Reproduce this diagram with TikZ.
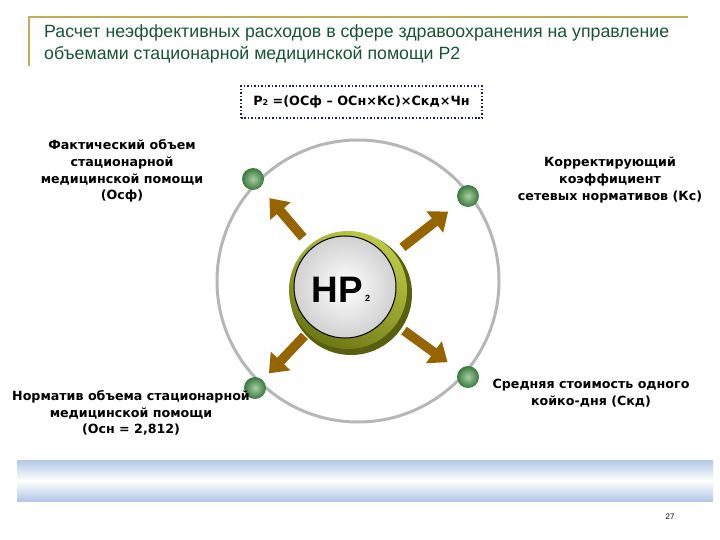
\documentclass[tikz,border=0pt]{standalone}
\usepackage{fontspec}
\setmainfont{Liberation Sans}
\newfontfamily\labfont{DejaVu Sans}
\usetikzlibrary{arrows.meta,shadings}
\definecolor{titlegreen}{RGB}{22,84,52}
\definecolor{goldline}{RGB}{196,172,84}
\definecolor{navy}{RGB}{30,30,110}
\definecolor{ringgray}{RGB}{182,182,182}
\definecolor{arrowbrown}{RGB}{150,100,0}
\definecolor{olivelight}{RGB}{190,200,70}
\definecolor{olivedark}{RGB}{110,120,20}
\definecolor{dotlight}{RGB}{170,205,165}
\definecolor{dotdark}{RGB}{55,120,60}
\definecolor{barblue}{RGB}{178,200,230}
\tikzset{
  lbl/.style={font=\labfont\bfseries\fontsize{12.7}{16.8}\selectfont, align=center, inner sep=0pt, text=black},
  dotnode/.style={circle, minimum size=22bp, inner sep=0pt, inner color=dotlight, outer color=dotdark},
  arr/.style={arrowbrown, line width=9.5bp, -{Triangle[length=17bp,width=26bp]}, shorten <=8bp, shorten >=14bp},
  ttl/.style={font=\fontsize{17.8}{22}\selectfont, text=titlegreen, inner sep=0pt, anchor=base west}
}
\begin{document}
\begin{tikzpicture}[x=1bp,y=-1bp]
\useasboundingbox (0,0) rectangle (720,540);
% title frame
\draw[goldline, line width=2bp] (29,66) -- (29,17.5) -- (688,17.5);
\node[ttl] (t1) at (44,38) {Расчет неэффективных расходов в сфере здравоохранения на управление};
\node[ttl] (t2) at (44,60) {объемами стационарной медицинской помощи Р2};
% formula box
\node[draw=navy, dotted, line width=1.5bp, minimum width=241bp, minimum height=32bp, inner sep=0pt,
      font=\labfont\bfseries\fontsize{12.8}{14}\selectfont] (f) at (361.5,102)
  {Р{\fontsize{8}{8}\selectfont 2} =(ОСф – ОСн×Кс)×Скд×Чн};
% big circle
\draw[ringgray, line width=3bp] (358,281) circle (141);
% center button
\node[circle, minimum size=122bp, inner sep=0pt] (c) at (348,290) {};
\fill[olivedark!80!black] (351,294) circle (61);
\shade[top color=olivelight, bottom color=olivedark, shading angle=-30] (348,290) circle (59);
\shade[inner color=white, outer color=black!18] (345,287) circle (51);
\draw[black, line width=1bp] (345,287) circle (51);
\node[inner sep=0pt, font=\fontsize{37}{37}\selectfont\bfseries] (hp) at (337,290) {НР};
\node[inner sep=0pt, font=\fontsize{9}{9}\selectfont\bfseries, anchor=base west] (hp2) at (365,301) {2};
% dots
\node[dotnode] (d1) at (253,179) {};
\node[dotnode] (d2) at (468,196) {};
\node[dotnode] (d3) at (255,388) {};
\node[dotnode] (d4) at (468,377) {};
% arrows
\draw[arr] (c) -- (d1);
\draw[arr] (c) -- (d2);
\draw[arr, shorten <=2bp, shorten >=9bp] (c) -- (d3);
\draw[arr] (c) -- (d4);
% labels
\node[lbl] (l1) at (122,171) {Фактический объем\\стационарной\\медицинской помощи\\(Осф)};
\node[lbl] (l2) at (610,180) {Корректирующий\\коэффициент\\сетевых нормативов (Кс)};
\node[lbl] (l3) at (131,413) {Норматив объема стационарной\\медицинской помощи\\(Осн = 2,812)};
\node[lbl] (l4) at (591,393) {Средняя стоимость одного\\койко-дня (Скд)};
% bottom bar
\shade[top color=barblue, bottom color=barblue, middle color=white] (17,460) rectangle (713,501);
\node[inner sep=0pt, font=\fontsize{8}{9}\selectfont] (pg) at (670,517) {27};
\end{tikzpicture}
\end{document}
